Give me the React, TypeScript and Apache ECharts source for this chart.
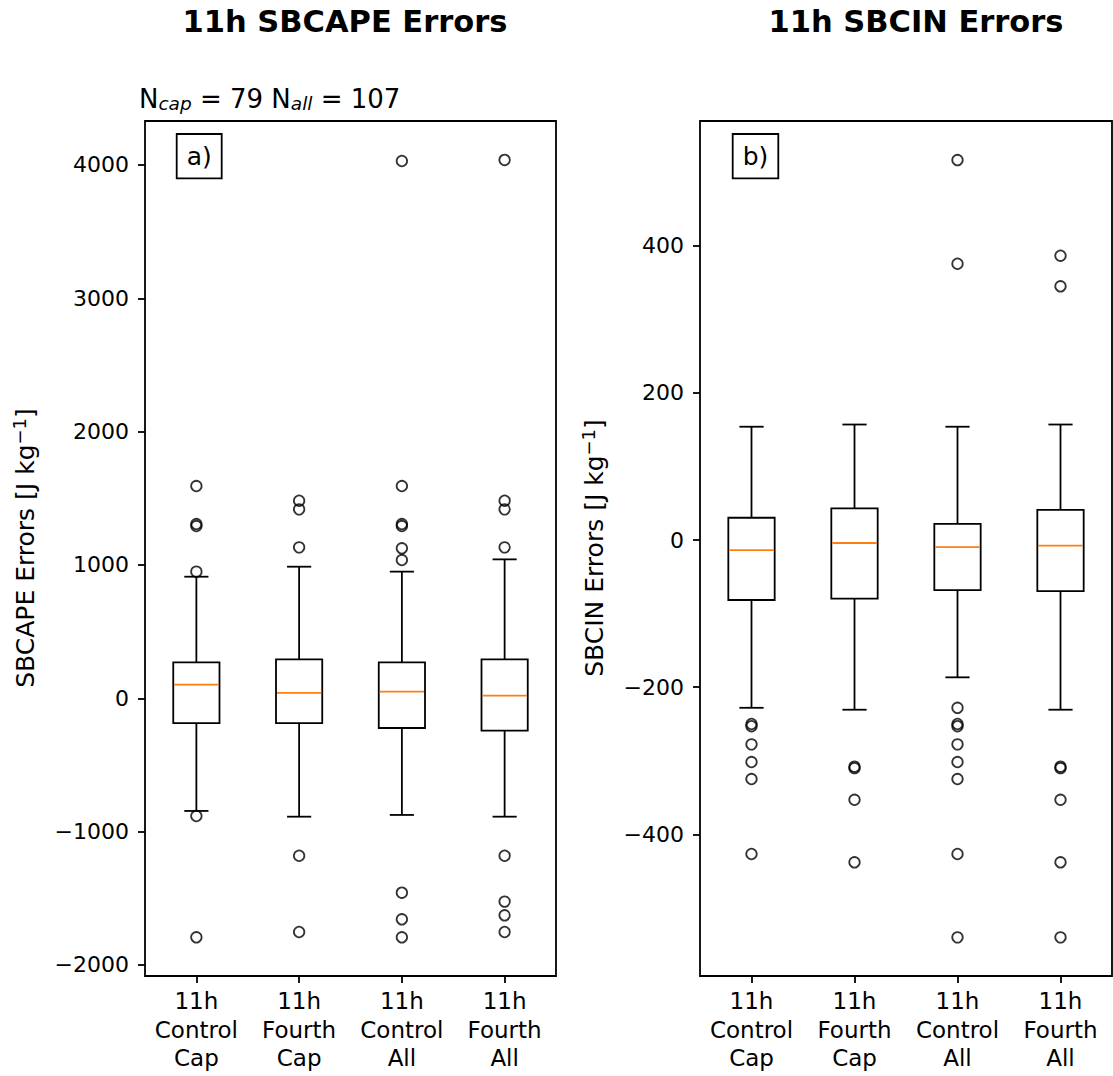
import React, { useEffect, useRef } from 'react';
import * as echarts from 'echarts';

const categories = ['11h\nControl\nCap', '11h\nFourth\nCap', '11h\nControl\nAll', '11h\nFourth\nAll'];

// [lower whisker, Q1, median, Q3, upper whisker]
const capeBoxes = [
  [-845, -187, 102, 270, 912],
  [-888, -187, 40, 292, 987],
  [-875, -223, 50, 270, 950],
  [-888, -243, 20, 292, 1042],
];
const capeOutliers = [
  [1592, 1307, 1292, 950, -883, -1793],
  [1482, 1417, 1132, -1181, -1753],
  [4030, 1592, 1307, 1292, 1125, 1037, -1458, -1658, -1793],
  [4038, 1482, 1417, 1132, -1181, -1525, -1628, -1753],
];
const cinBoxes = [
  [-228, -81.5, -13.6, 30.3, 154],
  [-230.6, -79.7, -4, 43, 157],
  [-186.6, -68, -9.5, 22, 154],
  [-230.6, -69.3, -7.7, 41, 157],
];
const cinOutliers = [
  [-250, -253, -277.7, -301.7, -324.8, -426.7],
  [-308, -310, -353, -438],
  [516.4, 375.5, -228, -250, -253, -277.7, -301.7, -324.8, -426.7, -540],
  [386.4, 344.8, -308, -310, -353, -438, -540],
];
const capeTicks = [-2000, -1000, 0, 1000, 2000, 3000, 4000];
const cinTicks = [-400, -200, 0, 200, 400];
const capeRange = [-2083, 4330];
const cinRange = [-592.5, 569.5];

const FONT = 'DejaVu Sans';
const LW = 1.8;

const renderBox = (params: any, api: any) => {
  const x = api.value(0);
  const lo = api.coord([x, api.value(1)]);
  const q1 = api.coord([x, api.value(2)]);
  const med = api.coord([x, api.value(3)]);
  const q3 = api.coord([x, api.value(4)]);
  const hi = api.coord([x, api.value(5)]);
  const band = api.size([1, 0])[0];
  const bw = band * 0.45;
  const cw = band * 0.235;
  const cx = lo[0];
  const ls = { stroke: '#000', lineWidth: LW, fill: 'none' };
  return {
    type: 'group',
    children: [
      { type: 'line', shape: { x1: cx, y1: lo[1], x2: cx, y2: q1[1] }, style: ls },
      { type: 'line', shape: { x1: cx, y1: q3[1], x2: cx, y2: hi[1] }, style: ls },
      { type: 'line', shape: { x1: cx - cw / 2, y1: lo[1], x2: cx + cw / 2, y2: lo[1] }, style: ls },
      { type: 'line', shape: { x1: cx - cw / 2, y1: hi[1], x2: cx + cw / 2, y2: hi[1] }, style: ls },
      { type: 'rect', shape: { x: cx - bw / 2, y: q3[1], width: bw, height: q1[1] - q3[1] }, style: ls },
      { type: 'line', shape: { x1: cx - bw / 2 + 1, y1: med[1], x2: cx + bw / 2 - 1, y2: med[1] }, style: { stroke: '#ff7f0e', lineWidth: LW } },
    ],
  };
};

const makeXAxis = (gridIndex: number) => ({
  type: 'category',
  gridIndex,
  data: categories,
  boundaryGap: true,
  axisLine: { show: false, onZero: false },
  axisTick: { show: true, alignWithLabel: true, length: 7, lineStyle: { color: '#000', width: LW } },
  axisLabel: { color: '#000', fontSize: 23, fontFamily: FONT, lineHeight: 28.5, margin: 11, interval: 0 },
  splitLine: { show: false },
});

const minusFmt = (v: number) => (v < 0 ? '\u2212' + Math.abs(v) : String(v));

const App: React.FC = () => {
  const ref = useRef<HTMLDivElement>(null);
  useEffect(() => {
    if (!ref.current) return;
    const chart = echarts.init(ref.current, undefined, { renderer: 'svg' });
    const yAxisBase = {
      type: 'value',
      axisLine: { show: false, onZero: false },
      splitLine: { show: false },
    };
    const tickStyle = { show: true, length: 7, lineStyle: { color: '#000', width: LW } };
    const labelStyle = { color: '#000', fontSize: 22, fontFamily: FONT, margin: 16, formatter: minusFmt };
    const option: any = {
      animation: false,
      backgroundColor: '#fff',
      grid: [
        { left: 145, top: 121, width: 411, height: 855, show: true, borderColor: '#000', borderWidth: LW, backgroundColor: 'transparent' },
        { left: 700, top: 121, width: 412, height: 855, show: true, borderColor: '#000', borderWidth: LW, backgroundColor: 'transparent' },
      ],
      xAxis: [makeXAxis(0), makeXAxis(1)],
      yAxis: [
        {
          ...yAxisBase,
          gridIndex: 0,
          min: capeRange[0],
          max: capeRange[1],
          axisTick: { ...tickStyle, customValues: capeTicks },
          axisLabel: { ...labelStyle, customValues: capeTicks },
        },
        {
          ...yAxisBase,
          gridIndex: 1,
          min: cinRange[0],
          max: cinRange[1],
          axisTick: { ...tickStyle, customValues: cinTicks },
          axisLabel: { ...labelStyle, customValues: cinTicks },
        },
      ],
      series: [
        {
          type: 'custom',
          xAxisIndex: 0,
          yAxisIndex: 0,
          renderItem: renderBox,
          encode: { x: 0, y: [1, 2, 3, 4, 5] },
          data: capeBoxes.map((b, i) => [i, ...b]),
          z: 2,
        },
        {
          type: 'scatter',
          xAxisIndex: 0,
          yAxisIndex: 0,
          symbol: 'circle',
          symbolSize: 10.5,
          itemStyle: { color: 'transparent', borderColor: '#000', borderWidth: LW },
          data: capeOutliers.flatMap((arr, i) => arr.map((v) => [i, v])),
          z: 3,
        },
        {
          type: 'custom',
          xAxisIndex: 1,
          yAxisIndex: 1,
          renderItem: renderBox,
          encode: { x: 0, y: [1, 2, 3, 4, 5] },
          data: cinBoxes.map((b, i) => [i, ...b]),
          z: 2,
        },
        {
          type: 'scatter',
          xAxisIndex: 1,
          yAxisIndex: 1,
          symbol: 'circle',
          symbolSize: 10.5,
          itemStyle: { color: 'transparent', borderColor: '#000', borderWidth: LW },
          data: cinOutliers.flatMap((arr, i) => arr.map((v) => [i, v])),
          z: 3,
        },
      ],
      graphic: [
        {
          type: 'text', x: 345, y: 21,
          style: { text: '11h SBCAPE Errors', font: `bold 30.5px "${FONT}"`, fill: '#000', align: 'center', verticalAlign: 'middle' },
        },
        {
          type: 'text', x: 916, y: 21,
          style: { text: '11h SBCIN Errors', font: `bold 30.5px "${FONT}"`, fill: '#000', align: 'center', verticalAlign: 'middle' },
        },
        {
          type: 'text', x: 139, y: 99,
          style: {
            text: 'N{sub|cap} = 79 N{sub|all} = 107',
            fontFamily: FONT, fontSize: 26, fill: '#000', align: 'left', verticalAlign: 'middle',
            rich: { sub: { fontFamily: FONT, fontSize: 18.5, fontStyle: 'italic', padding: [9, 0, 0, 0] } },
          },
        },
        { type: 'rect', shape: { x: 176.7, y: 134, width: 45, height: 44.3 }, style: { fill: '#fff', stroke: '#000', lineWidth: LW }, z: 10 },
        { type: 'text', x: 199.2, y: 156, style: { text: 'a)', fontFamily: FONT, fontSize: 25, fill: '#000', align: 'center', verticalAlign: 'middle' }, z: 11 },
        { type: 'rect', shape: { x: 732.7, y: 134, width: 45.6, height: 44.3 }, style: { fill: '#fff', stroke: '#000', lineWidth: LW }, z: 10 },
        { type: 'text', x: 755.5, y: 156, style: { text: 'b)', fontFamily: FONT, fontSize: 25, fill: '#000', align: 'center', verticalAlign: 'middle' }, z: 11 },
        {
          type: 'text', x: 25, y: 548, rotation: Math.PI / 2,
          style: {
            text: 'SBCAPE Errors [J kg{sup|\u22121}]',
            fontFamily: FONT, fontSize: 25, fill: '#000', align: 'center', verticalAlign: 'middle',
            rich: { sup: { fontFamily: FONT, fontSize: 18, padding: [0, 0, 11, 0] } },
          },
        },
        {
          type: 'text', x: 594, y: 548, rotation: Math.PI / 2,
          style: {
            text: 'SBCIN Errors [J kg{sup|\u22121}]',
            fontFamily: FONT, fontSize: 25, fill: '#000', align: 'center', verticalAlign: 'middle',
            rich: { sup: { fontFamily: FONT, fontSize: 18, padding: [0, 0, 11, 0] } },
          },
        },
      ],
    };
    chart.setOption(option);
    return () => chart.dispose();
  }, []);
  return <div ref={ref} style={{ position: 'absolute', left: 0, top: 0, width: 1113, height: 1076 }} />;
};

export default App;
